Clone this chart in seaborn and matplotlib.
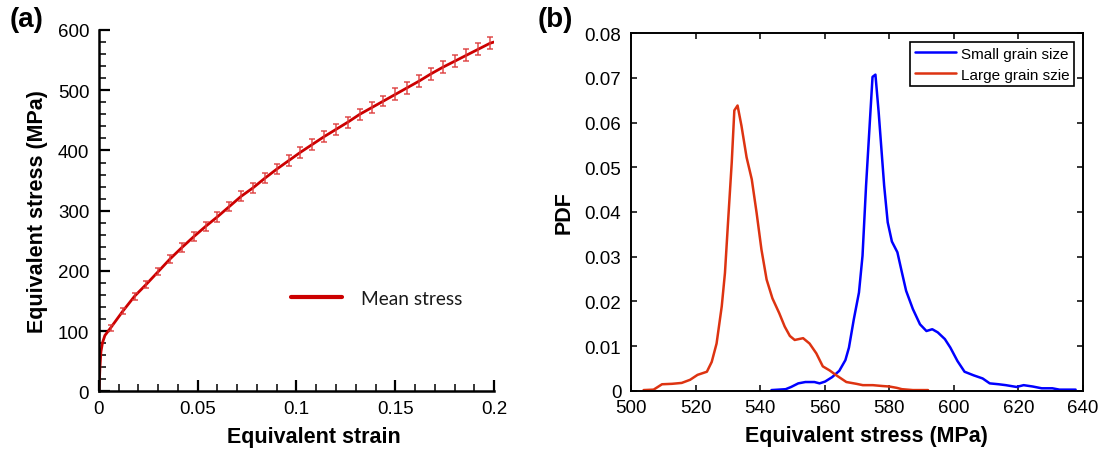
import numpy as np
import pandas as pd
import matplotlib
matplotlib.use("Agg")
import matplotlib.pyplot as plt
import seaborn as sns
from matplotlib.ticker import MultipleLocator, FormatStrFormatter

# ---------------- data: panel (a) ----------------
curve_strain = [0.0, 0.0005, 0.001, 0.0018, 0.003]
curve_stress = [0.0, 40.0, 66.0, 81.0, 93.0]
bar_strain = [0.006, 0.012, 0.018, 0.024, 0.030, 0.036, 0.042, 0.048, 0.054, 0.060,
              0.066, 0.072, 0.078, 0.084, 0.090, 0.096, 0.102, 0.108, 0.114, 0.120,
              0.126, 0.132, 0.138, 0.144, 0.150, 0.156, 0.162, 0.168, 0.174, 0.180,
              0.186, 0.192, 0.198]
bar_stress = [106, 133, 158, 178, 199, 220, 239, 257, 274, 290,
              307, 324, 338, 354, 369, 383, 397, 410, 423, 435,
              447, 460, 471, 482, 493, 504, 515, 527, 538, 548,
              558, 568, 578]
bar_err = [5, 5, 6, 6, 6, 7, 7, 7, 7, 8,
           8, 8, 8, 8, 8, 9, 9, 9, 9, 9,
           9, 9, 9, 9, 10, 10, 10, 10, 10, 10,
           10, 10, 10]
end_strain = [0.2]
end_stress = [580]

# ---------------- data: panel (b) ----------------
small_x = [543.5, 547.9, 549.6, 551.8, 554.0, 556.8, 558.4, 560.1, 562.3, 564.5,
           566.4, 567.5, 569.0, 570.6, 571.7, 572.8, 573.9, 574.8, 575.7, 576.7,
           578.4, 579.5, 580.8, 582.5, 583.9, 585.2, 587.3, 589.5, 591.5, 593.3,
           595.0, 597.2, 598.9, 601.1, 603.3, 606.1, 608.9, 611.1, 613.9, 616.1,
           619.4, 621.6, 624.4, 627.2, 630.5, 632.7, 637.7]
small_pdf = [0.0002, 0.0004, 0.0009, 0.0017, 0.0020, 0.0020, 0.0017, 0.0021, 0.0031, 0.0045,
             0.0069, 0.0097, 0.0160, 0.0220, 0.0302, 0.0459, 0.0593, 0.0702, 0.0707, 0.0623,
             0.0459, 0.0377, 0.0334, 0.0310, 0.0265, 0.0224, 0.0183, 0.0149, 0.0134, 0.0138,
             0.0131, 0.0116, 0.0097, 0.0067, 0.0043, 0.0035, 0.0028, 0.0017, 0.0015, 0.0013,
             0.0009, 0.0013, 0.0010, 0.0006, 0.0006, 0.0003, 0.0003]
large_x = [503.9, 507.0, 509.6, 512.7, 515.7, 518.3, 520.6, 523.5, 525.0, 526.5,
           528.1, 529.1, 530.1, 531.2, 532.0, 533.0, 534.2, 535.8, 537.4, 538.9,
           540.4, 542.0, 543.8, 545.9, 547.6, 549.2, 550.7, 553.3, 555.3, 557.4,
           559.4, 561.5, 563.6, 566.7, 569.8, 571.8, 574.9, 578.0, 580.0, 582.3,
           583.9, 587.3, 592.0]
large_pdf = [0.0002, 0.0003, 0.0015, 0.0016, 0.0018, 0.0025, 0.0036, 0.0043, 0.0065, 0.0106,
             0.0189, 0.0264, 0.0383, 0.0511, 0.0627, 0.0638, 0.0593, 0.0522, 0.0473, 0.0398,
             0.0316, 0.0249, 0.0207, 0.0174, 0.0144, 0.0123, 0.0114, 0.0118, 0.0106, 0.0084,
             0.0055, 0.0046, 0.0035, 0.0020, 0.0016, 0.0013, 0.0013, 0.0011, 0.0010, 0.0007,
             0.0004, 0.0002, 0.0002]

sns.set_theme(style="ticks")
plt.rcParams["font.family"] = ["Liberation Sans", "DejaVu Sans"]
plt.rcParams["axes.linewidth"] = 1.4
for k in ["text.color", "axes.labelcolor", "xtick.color", "ytick.color",
          "xtick.labelcolor", "ytick.labelcolor", "axes.edgecolor"]:
    plt.rcParams[k] = "black"

fig = plt.figure(figsize=(11.02, 4.56), dpi=100)
axA = fig.add_axes([0.0898, 0.1393, 0.3585, 0.7928])
axB = fig.add_axes([0.5726, 0.1404, 0.4102, 0.7850])

# ---------------- panel (a) ----------------
line_x = curve_strain + bar_strain + end_strain
line_y = curve_stress + bar_stress + end_stress
sns.lineplot(x=line_x, y=line_y, ax=axA, color="#cc0000", lw=2.0,
             estimator=None, sort=False, label="Mean stress")
axA.errorbar(bar_strain, bar_stress, yerr=bar_err, fmt="none", ecolor="#dd3b3b",
             elinewidth=1.1, capsize=2.3, capthick=1.1, alpha=0.9, zorder=3)
axA.set_xlim(0, 0.2)
axA.set_ylim(0, 600)
axA.spines["top"].set_visible(False)
axA.spines["right"].set_visible(False)
axA.spines["left"].set_linewidth(1.8)
axA.spines["bottom"].set_linewidth(1.8)
axA.xaxis.set_major_locator(MultipleLocator(0.05))
axA.xaxis.set_minor_locator(MultipleLocator(0.01))
axA.yaxis.set_major_locator(MultipleLocator(100))
axA.yaxis.set_minor_locator(MultipleLocator(20))
axA.xaxis.set_major_formatter(FormatStrFormatter("%g"))
axA.tick_params(which="major", direction="in", length=8, width=1.6, labelsize=13.5,
                colors="black")
axA.tick_params(axis="x", which="major", pad=6)
axA.tick_params(axis="y", which="major", pad=7)
axA.tick_params(which="minor", direction="in", length=5, width=1.1)
axA.set_xlabel("Equivalent strain", fontsize=15.5, fontweight="bold")
axA.set_ylabel("Equivalent stress (MPa)", fontsize=15.5, fontweight="bold")
axA.xaxis.set_label_coords(0.545, -0.095)
axA.yaxis.set_label_coords(-0.13, 0.5)
axA.legend(loc="center left", bbox_to_anchor=(0.485, 0.257), frameon=False,
           prop={"family": "Lato", "size": 13.8}, handlelength=2.7,
           handletextpad=1.0, borderpad=0, borderaxespad=0, labelcolor="#1a1a1a")
for ln in axA.get_legend().get_lines():
    ln.set_linewidth(3)

# ---------------- panel (b) ----------------
sns.lineplot(x=small_x, y=small_pdf, ax=axB, color="#0000ff", lw=1.8,
             estimator=None, sort=False, label="Small grain size")
sns.lineplot(x=large_x, y=large_pdf, ax=axB, color="#dd3311", lw=1.8,
             estimator=None, sort=False, label="Large grain szie")
axB.set_xlim(500, 640)
axB.set_ylim(0, 0.08)
axB.xaxis.set_major_locator(MultipleLocator(20))
axB.yaxis.set_major_locator(MultipleLocator(0.01))
axB.yaxis.set_major_formatter(FormatStrFormatter("%g"))
for s in axB.spines.values():
    s.set_linewidth(1.4)
axB.tick_params(direction="in", length=4, width=1.1, top=True, right=True,
                labelsize=13.5, colors="black")
axB.tick_params(axis="x", pad=6)
axB.tick_params(axis="y", pad=7)
axB.set_xlabel("Equivalent stress (MPa)", fontsize=15.5, fontweight="bold")
axB.set_ylabel("PDF", fontsize=15.5, fontweight="bold")
axB.xaxis.set_label_coords(0.52, -0.095)
axB.yaxis.set_label_coords(-0.125, 0.5)
leg = axB.legend(loc="upper right", fontsize=11, frameon=True, fancybox=False,
                 edgecolor="black", framealpha=1, handlelength=2.7,
                 handletextpad=0.3, labelspacing=0.45, borderpad=0.3,
                 borderaxespad=0.6)
leg.get_frame().set_linewidth(1.2)

# panel labels
fig.text(0.009, 0.985, "(a)", fontsize=20, fontweight="bold", va="top", ha="left")
fig.text(0.488, 0.985, "(b)", fontsize=20, fontweight="bold", va="top", ha="left")

fig.savefig("out.png", dpi=100)
